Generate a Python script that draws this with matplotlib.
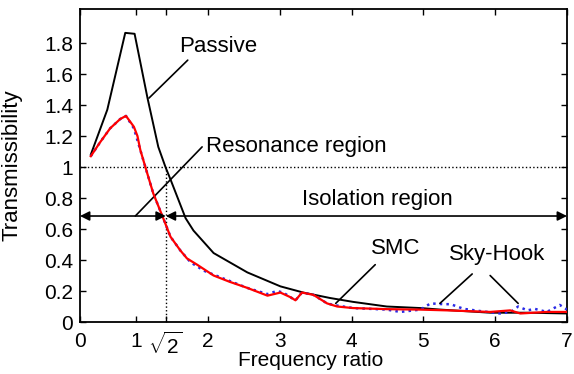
import numpy as np
import matplotlib
matplotlib.use('Agg')
import matplotlib.pyplot as plt

plt.rcParams['font.family'] = ['Liberation Sans', 'DejaVu Sans']
plt.rcParams['mathtext.fontset'] = 'custom'
plt.rcParams['mathtext.rm'] = 'Liberation Sans'
plt.rcParams['mathtext.it'] = 'Liberation Sans'

# Passive (black)
passive_x = [0.37, 0.6, 0.85, 0.98, 1.16, 1.31, 1.41, 1.48, 1.69, 1.80, 2.08,
             2.55, 3.01, 3.33, 3.70, 4.02, 4.49, 4.96, 5.24, 5.93, 6.44, 7.0]
passive_y = [1.08, 1.37, 1.866, 1.86, 1.445, 1.13, 1.0, 0.92, 0.67, 0.59, 0.445,
             0.32, 0.23, 0.19, 0.155, 0.13, 0.10, 0.09, 0.08, 0.06, 0.06, 0.055]

# SMC (red)
smc_x = [0.37, 0.5, 0.64, 0.78, 0.86, 0.97, 1.02, 1.06, 1.13, 1.24, 1.37, 1.48, 1.62,
         1.71, 1.85, 2.08, 2.3, 2.55, 2.83, 3.01, 3.15, 3.22, 3.31, 3.47, 3.66, 3.8,
         4.02, 4.49, 4.96, 5.33, 5.93, 6.21, 6.35, 6.72, 7.0]
smc_y = [1.07, 1.16, 1.25, 1.31, 1.33, 1.26, 1.2, 1.11, 1.0, 0.83, 0.68, 0.55, 0.46,
         0.41, 0.37, 0.30, 0.26, 0.22, 0.17, 0.19, 0.16, 0.14, 0.19, 0.175, 0.12, 0.10,
         0.09, 0.083, 0.08, 0.075, 0.065, 0.075, 0.055, 0.065, 0.065]

# Sky-Hook (blue dotted)
sky_x = [0.37, 0.5, 0.64, 0.78, 0.86, 0.97, 1.13, 1.24, 1.37, 1.48, 1.62, 1.76, 1.95,
         2.22, 2.55, 2.83, 2.96, 3.05, 3.15, 3.22, 3.31, 3.47, 3.66, 3.75, 4.02, 4.49,
         4.68, 4.96, 5.1, 5.28, 5.38, 5.56, 5.8, 6.07, 6.22, 6.32, 6.45, 6.55, 6.72,
         6.9, 7.0]
sky_y = [1.07, 1.16, 1.25, 1.31, 1.33, 1.25, 1.0, 0.83, 0.68, 0.55, 0.46, 0.385, 0.33,
         0.28, 0.22, 0.18, 0.20, 0.19, 0.16, 0.14, 0.19, 0.175, 0.12, 0.11, 0.09, 0.08,
         0.065, 0.08, 0.12, 0.115, 0.115, 0.085, 0.07, 0.055, 0.065, 0.10, 0.075, 0.085,
         0.065, 0.11, 0.08]

x_min, x_max = 0.22, 7.0
xticks = [x_min, 1, np.sqrt(2), 2, 3, 4, 5, 6, 7]
xtick_labels = ['0', '1', r'$\sqrt{2}$', '2', '3', '4', '5', '6', '7']
yticks = [0, 0.2, 0.4, 0.6, 0.8, 1.0, 1.2, 1.4, 1.6, 1.8]
ytick_labels = ['0', '0.2', '0.4', '0.6', '0.8', '1', '1.2', '1.4', '1.6', '1.8']

fig = plt.figure(figsize=(5.74, 3.74), dpi=100)
ax = fig.add_axes([80 / 574, 52 / 374, 487 / 574, 313 / 374])

ax.plot(passive_x, passive_y, color='black', lw=1.4, zorder=3)
ax.plot(sky_x, sky_y, color='#2a2ae6', lw=1.8, ls=':', zorder=3)
ax.plot(smc_x, smc_y, color='#ff0000', lw=1.6, zorder=4)

# reference lines
ax.plot([x_min, x_max], [1, 1], color='black', lw=1, ls=':', zorder=2)
ax.plot([np.sqrt(2), np.sqrt(2)], [0, 1], color='black', lw=1, ls=':', zorder=2)

# region arrows
arr_y = 0.684
ap = dict(arrowstyle='<|-|>', color='black', lw=1.2, mutation_scale=14,
          shrinkA=0, shrinkB=0)
ax.annotate('', xy=(x_min, arr_y), xytext=(np.sqrt(2), arr_y), arrowprops=ap, zorder=5)
ax.annotate('', xy=(np.sqrt(2), arr_y), xytext=(x_max, arr_y), arrowprops=ap, zorder=5)

# leader lines
lp = dict(arrowstyle='-', color='black', lw=1.2, shrinkA=0, shrinkB=0)
ax.annotate('', xy=(1.18, 1.445), xytext=(1.72, 1.69), arrowprops=lp)
ax.annotate('', xy=(0.99, 0.684), xytext=(1.92, 1.13), arrowprops=lp)
ax.annotate('', xy=(3.78, 0.12), xytext=(4.33, 0.37), arrowprops=lp)
ax.annotate('', xy=(5.23, 0.12), xytext=(5.68, 0.31), arrowprops=lp)
ax.annotate('', xy=(6.32, 0.12), xytext=(5.93, 0.30), arrowprops=lp)

fs = 16
ax.text(2.15, 1.742, 'Passive', fontsize=fs, ha='center', va='baseline')
ax.text(1.98, 1.097, 'Resonance region', fontsize=fs, ha='left', va='baseline')
ax.text(4.36, 0.755, 'Isolation region', fontsize=fs, ha='center', va='baseline')
ax.text(4.62, 0.439, 'SMC', fontsize=fs, ha='center', va='baseline')
ax.text(6.02, 0.40, 'Sky-Hook', fontsize=fs, ha='center', va='baseline')

ax.set_xlim(x_min, x_max)
ax.set_ylim(0, 2.02)
ax.set_xticks(xticks)
ax.set_xticklabels(xtick_labels)
ax.set_yticks(yticks)
ax.set_yticklabels(ytick_labels)
ax.tick_params(direction='in', top=True, right=True, length=4, width=1,
               labelsize=15)
ax.tick_params(axis='x', pad=7)
ax.tick_params(axis='y', pad=5)
for s in ax.spines.values():
    s.set_linewidth(1.3)

ax.set_ylabel('Transmissibility', fontsize=fs)
ax.yaxis.set_label_coords(-0.118, 0.5)
ax.set_xlabel('Frequency ratio', fontsize=15)
ax.xaxis.set_label_coords(0.474, -0.093)

fig.savefig('out.png', dpi=100)
